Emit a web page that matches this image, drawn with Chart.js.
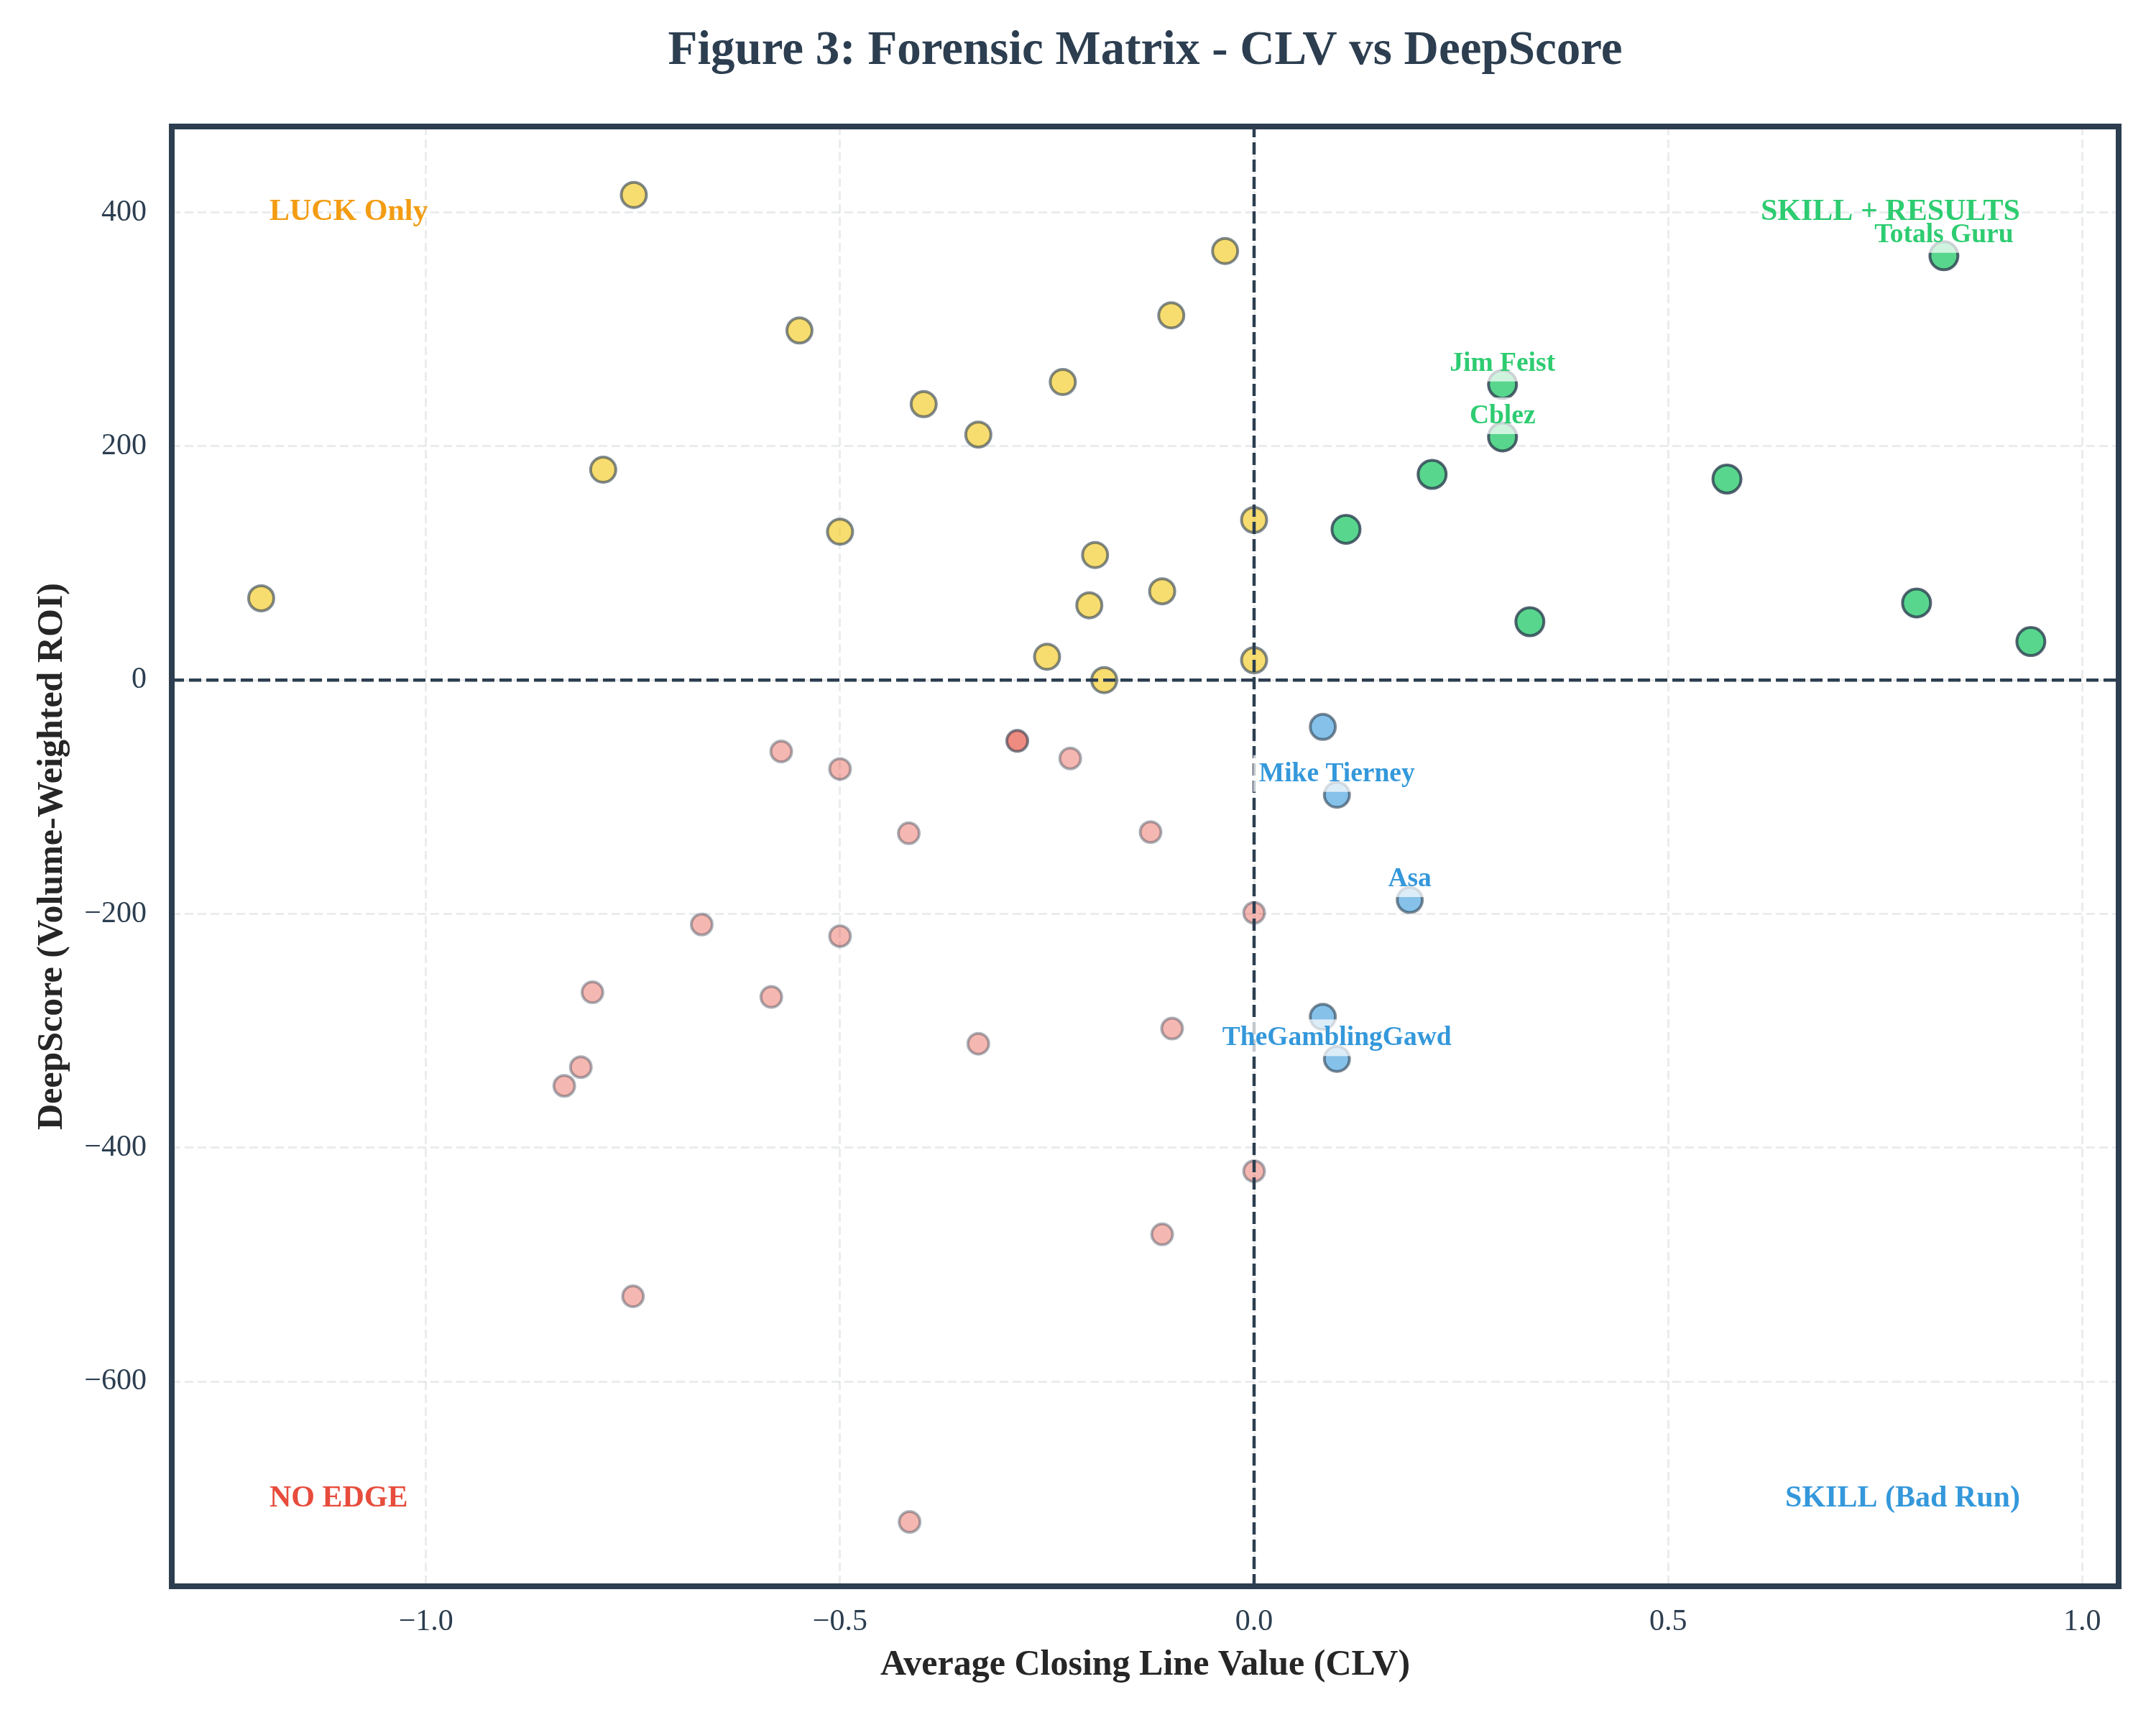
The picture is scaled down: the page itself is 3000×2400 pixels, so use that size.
<!DOCTYPE html>
<html>
<head>
<meta charset="utf-8">
<title>Forensic Matrix - CLV vs DeepScore</title>
<script src="https://cdn.jsdelivr.net/npm/chart.js@4.4.1/dist/chart.umd.min.js"></script>
<style>
  body { margin: 0; background: #ffffff; }
  canvas { display: block; }
</style>
</head>
<body>
<canvas id="matrix" width="3000" height="2400"></canvas>
<script>
// SKILL + RESULTS (green): positive CLV, positive DeepScore
const skillX = [0.833, 0.300, 0.300, 0.215, 0.571, 0.111, 0.333, 0.800, 0.938];
const skillY = [363, 253, 208, 176, 172, 129, 50, 66, 33];
const skillNames = ['Totals Guru', 'Jim Feist', 'Cblez', '', '', '', '', '', ''];

// LUCK Only (yellow)
const luckX = [-0.749, -0.035, -0.549, -0.100, -0.399, -0.231, -0.333, -0.786, -0.500,
  0.000, -0.192, -0.111, -0.199, -1.199, -0.250, -0.181, 0.000];
const luckY = [415, 367, 299, 312, 236, 255, 210, 180, 127, 137, 107, 76, 64, 70, 20, 0, 17];

// SKILL (Bad Run) (blue)
const badRunX = [0.083, 0.100, 0.188, 0.083, 0.100];
const badRunY = [-40, -98, -188, -288, -324];
const badRunNames = ['', 'Mike Tierney', 'Asa', '', 'TheGamblingGawd'];

// NO EDGE (red) - two handicappers sit on the same spot near (-0.286, -52)
const noEdgeX = [-0.571, -0.500, -0.286, -0.286, -0.222, -0.417, -0.125, -0.667, -0.500, -0.799,
  -0.583, -0.333, -0.099, 0.000, -0.813, -0.833, 0.000, -0.111, -0.750, -0.416];
const noEdgeY = [-61, -76, -52, -52, -67, -131, -130, -209, -219, -267,
  -271, -311, -298, -199, -331, -347, -420, -474, -527, -720];

const xTicks = [-1.0, -0.5, 0.0, 0.5, 1.0];
const yTicks = [-600, -400, -200, 0, 200, 400];

// axis limits
const xLimits = [-1.307, 1.044];
const yLimits = [-775, 473.5];

const quadrants = [
  { text: 'LUCK Only', x: -1.189, y: 400, align: 'left', color: '#f39c12' },
  { text: 'SKILL + RESULTS', x: 0.925, y: 400, align: 'right', color: '#2ecc71' },
  { text: 'NO EDGE', x: -1.189, y: -700, align: 'left', color: '#e74c3c' },
  { text: 'SKILL (Bad Run)', x: 0.925, y: -700, align: 'right', color: '#3498db' }
];

const DARK = '#2c3e50';
const SERIF = "'Liberation Serif', 'Times New Roman', serif";

function pts(xs, ys) {
  return xs.map((v, i) => ({ x: v, y: ys[i] }));
}

function fmt(v, digits) {
  const s = Math.abs(v).toFixed(digits);
  return v < 0 ? '\u2212' + s : s;
}

const annotatePlugin = {
  id: 'annotate',
  afterDatasetsDraw(chart) {
    const { ctx, chartArea: a, scales: { x, y } } = chart;

    // zero reference lines
    ctx.save();
    ctx.beginPath();
    ctx.rect(a.left, a.top, a.right - a.left, a.bottom - a.top);
    ctx.clip();
    ctx.strokeStyle = DARK;
    ctx.lineWidth = 4.5;
    ctx.setLineDash([17, 7]);
    const x0 = x.getPixelForValue(0);
    const y0 = y.getPixelForValue(0);
    ctx.beginPath();
    ctx.moveTo(x0, a.bottom);
    ctx.lineTo(x0, a.top);
    ctx.stroke();
    ctx.beginPath();
    ctx.moveTo(a.left, y0);
    ctx.lineTo(a.right, y0);
    ctx.stroke();
    ctx.restore();

    // named handicappers
    const named = [
      { xs: skillX, ys: skillY, names: skillNames, color: '#2ecc71' },
      { xs: badRunX, ys: badRunY, names: badRunNames, color: '#3498db' }
    ];
    ctx.save();
    ctx.font = 'bold 37.5px ' + SERIF;
    ctx.textAlign = 'center';
    ctx.textBaseline = 'alphabetic';
    named.forEach(g => {
      g.names.forEach((name, i) => {
        if (!name) return;
        const px = x.getPixelForValue(g.xs[i]);
        const py = y.getPixelForValue(g.ys[i]);
        const base = py - 19;
        const w = ctx.measureText(name).width;
        ctx.fillStyle = 'rgba(255,255,255,0.72)';
        ctx.fillRect(px - w / 2 - 8, base - 36, w + 16, 36 + 15);
        ctx.fillStyle = g.color;
        ctx.fillText(name, px, base);
      });
    });
    ctx.restore();

    // quadrant captions
    ctx.save();
    ctx.font = 'bold 42px ' + SERIF;
    ctx.textBaseline = 'middle';
    quadrants.forEach(q => {
      ctx.fillStyle = q.color;
      ctx.textAlign = q.align;
      ctx.fillText(q.text, x.getPixelForValue(q.x), y.getPixelForValue(q.y));
    });
    ctx.restore();

    // heavy frame
    ctx.save();
    ctx.strokeStyle = DARK;
    ctx.lineWidth = 8;
    ctx.strokeRect(a.left, a.top, a.right - a.left, a.bottom - a.top);
    ctx.restore();
  }
};

const gridStyle = {
  color: 'rgba(189,195,199,0.32)',
  lineWidth: 3,
  drawTicks: false
};

new Chart(document.getElementById('matrix'), {
  type: 'scatter',
  data: {
    datasets: [
      {
        label: 'NO EDGE',
        data: pts(noEdgeX, noEdgeY),
        backgroundColor: 'rgba(231,76,60,0.4)',
        borderColor: 'rgba(44,62,80,0.4)',
        borderWidth: 4,
        pointRadius: 14.5
      },
      {
        label: 'LUCK Only',
        data: pts(luckX, luckY),
        backgroundColor: 'rgba(241,196,15,0.6)',
        borderColor: 'rgba(44,62,80,0.6)',
        borderWidth: 4,
        pointRadius: 17.5
      },
      {
        label: 'SKILL (Bad Run)',
        data: pts(badRunX, badRunY),
        backgroundColor: 'rgba(52,152,219,0.6)',
        borderColor: 'rgba(44,62,80,0.6)',
        borderWidth: 4,
        pointRadius: 17.5
      },
      {
        label: 'SKILL + RESULTS',
        data: pts(skillX, skillY),
        backgroundColor: 'rgba(46,204,113,0.8)',
        borderColor: 'rgba(44,62,80,0.8)',
        borderWidth: 4,
        pointRadius: 19.5
      }
    ]
  },
  options: {
    responsive: false,
    devicePixelRatio: 1,
    animation: false,
    layout: {
      autoPadding: false,
      padding: { left: 0, right: 52, top: 0, bottom: 0 }
    },
    plugins: {
      legend: { display: false },
      tooltip: { enabled: false },
      title: {
        display: true,
        fullSize: false,
        text: 'Figure 3: Forensic Matrix - CLV vs DeepScore',
        color: DARK,
        font: { family: SERIF, size: 67, weight: 'bold' },
        padding: { top: 31, bottom: 64.6 }
      }
    },
    scales: {
      x: {
        type: 'linear',
        min: xLimits[0],
        max: xLimits[1],
        afterBuildTicks: s => { s.ticks = xTicks.map(v => ({ value: v })); },
        afterFit: s => { s.height = 193; },
        grid: gridStyle,
        border: { display: false, dash: [12, 6] },
        ticks: {
          padding: 25,
          color: DARK,
          font: { family: SERIF, size: 42 },
          callback: v => fmt(v, 1)
        },
        title: {
          display: true,
          text: 'Average Closing Line Value (CLV)',
          color: '#262626',
          font: { family: SERIF, size: 50, weight: 'bold' },
          padding: { top: 0, bottom: 53 }
        }
      },
      y: {
        type: 'linear',
        min: yLimits[0],
        max: yLimits[1],
        afterBuildTicks: s => { s.ticks = yTicks.map(v => ({ value: v })); },
        afterFit: s => { s.width = 239; },
        grid: gridStyle,
        border: { display: false, dash: [12, 6] },
        ticks: {
          padding: 35,
          color: DARK,
          font: { family: SERIF, size: 42 },
          callback: v => fmt(v, 0)
        },
        title: {
          display: true,
          text: 'DeepScore (Volume-Weighted ROI)',
          color: '#262626',
          font: { family: SERIF, size: 50, weight: 'bold' },
          padding: { top: 43, bottom: 0 }
        }
      }
    }
  },
  plugins: [annotatePlugin]
});
</script>
</body>
</html>
